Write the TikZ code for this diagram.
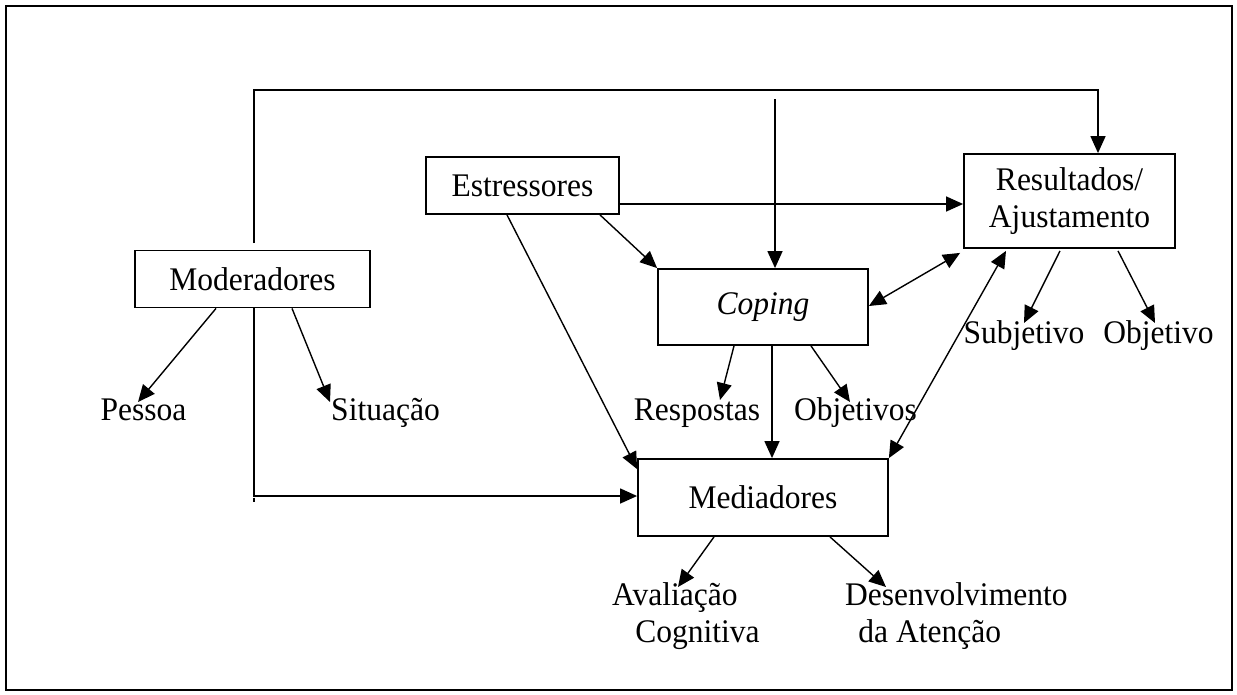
\documentclass[tikz,border=0pt]{standalone}
\usepackage{fontspec}
\setmainfont[FakeStretch=0.955]{Liberation Serif}
\usetikzlibrary{arrows.meta,calc}
\begin{document}
\begin{tikzpicture}[x=1pt,y=-1pt,
  every node/.style={font=\fontsize{33}{37}\selectfont, inner sep=0pt},
  box/.style={draw, line width=1.8pt, rectangle, align=center},
  lbl/.style={anchor=base},
  arr/.style={line width=1.4pt, -{Triangle[length=17pt,width=15pt]}},
  darr/.style={line width=1.4pt, {Triangle[length=17pt,width=15pt]}-{Triangle[length=17pt,width=15pt]}},
  ln/.style={line width=1.4pt}]
\useasboundingbox (0,0) rectangle (1237,694);
\draw[line width=1.8pt] (6,6) rectangle (1232,690);

% boxes
\node[box, minimum width=235pt, minimum height=57pt] (mod) at (252.5,279) {Moderadores};
\node[box, minimum width=193pt, minimum height=57pt] (est) at (522.5,185.5) {Estressores};
\node[box, minimum width=211pt, minimum height=94pt] (res) at (1069.5,201) {Resultados/\\Ajustamento};
\node[box, minimum width=210pt, minimum height=76pt] (cop) at (763,307) {\textit{Coping}};
\node[box, minimum width=250pt, minimum height=77pt] (med) at (763,497.5) {Mediadores};

% labels
\node[lbl] (pes) at (143.5,420) {Pessoa};
\node[lbl] (sit) at (385.5,420) {Situação};
\node[lbl] (resp) at (697,420) {Respostas};
\node[lbl] (obj) at (855.5,420) {Objetivos};
\node[lbl] (subj) at (1024,343) {Subjetivo};
\node[lbl] (objt) at (1158.5,343) {Objetivo};
\node[anchor=west, align=left] (aval) at (612,616) {Avaliação\\\hspace*{0.7em}Cognitiva};
\node[anchor=west, align=left] (des) at (845,616) {Desenvolvimento\\\hspace*{0.4em}da Atenção};

\coordinate (cin) at (775,99);

% connectors
\draw[arr] ([shift={(1.5,-6.5)}]mod.north) -- ++(0,-153) -| ([xshift=28.5pt]res.north);
\draw[arr] (cin) -- (cin |- cop.north);
\draw[arr] ([yshift=-18.5pt]est.east) -- ([yshift=-18.5pt]est.east -| res.west);
\draw[arr] ([xshift=77.5pt]est.south) -- (cop.north west);
\draw[arr] ([xshift=-15.5pt]est.south) -- ([yshift=-11pt]med.north west);
\draw[darr] ([yshift=1pt]cop.east) -- ([shift={(-3,4)}]res.south west);
\draw[darr] (med.north east) -- ([shift={(-63.5,2)}]res.south);
\draw[arr] ([xshift=1.5pt]mod.south) |- ([yshift=1.5pt]med.west);
\draw[ln] ([xshift=1.5pt]mod.south |- med.west) -- ++(0,4);
\draw[arr] ([xshift=-36.5pt]mod.south) -- ([shift={(-5.5,-18)}]pes.base);
\draw[arr] ([xshift=39.5pt]mod.south) -- ([shift={(-55.5,-18)}]sit.base);
\draw[arr] ([xshift=-29pt]cop.south) -- ([shift={(23,-20)}]resp.base);
\draw[arr] ([xshift=9pt]cop.south) -- ([xshift=9pt]med.north);
\draw[arr] ([xshift=48pt]cop.south) -- ([shift={(-5.5,-18)}]obj.base);
\draw[arr] ([shift={(-9.5,2)}]res.south) -- ([shift={(0,-20)}]subj.base);
\draw[arr] ([shift={(48.5,2)}]res.south) -- ([shift={(-3.5,-20)}]objt.base);
\draw[arr] ([xshift=-49pt]med.south) -- ([shift={(66,-29)}]aval.west);
\draw[arr] ([xshift=67pt]med.south) -- ([shift={(41,-29)}]des.west);
\end{tikzpicture}
\end{document}
